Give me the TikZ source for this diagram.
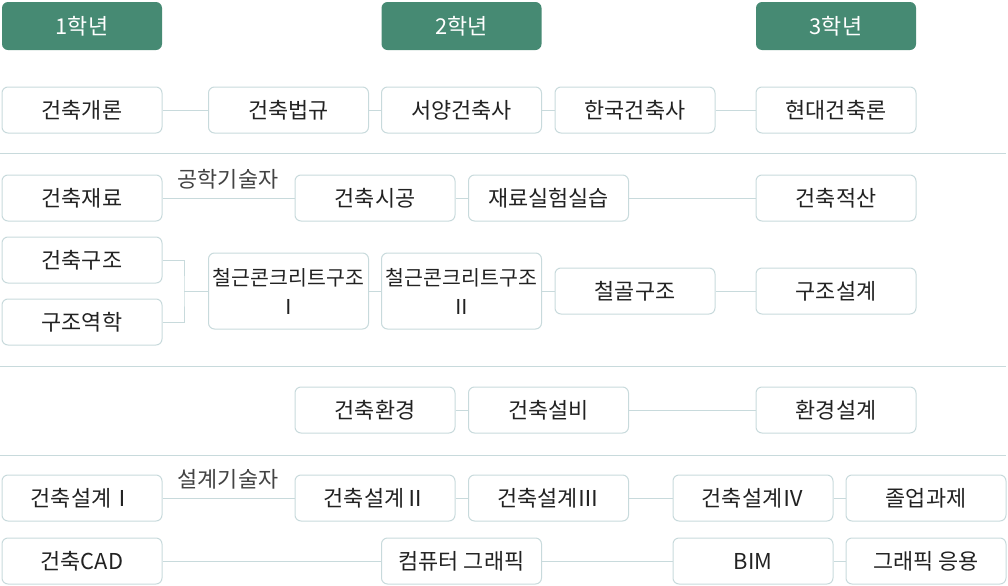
\documentclass[tikz,border=0pt]{standalone}
\usepackage{fontspec}
\setmainfont{Noto Sans CJK KR}
\definecolor{hdr}{RGB}{70,138,115}
\definecolor{edge}{RGB}{200,218,220}
\definecolor{txt}{RGB}{34,34,34}

\begin{document}
\begin{tikzpicture}[x=0.75pt, y=-0.75pt, font=\fontsize{16.4}{21.75}\selectfont,
  course/.style = {draw=edge, line width=0.75pt, rounded corners=4.5pt, minimum width=120pt, minimum height=34.5pt, inner sep=0pt, text=txt, align=center},
  tall/.style = {course, minimum height=57pt, font=\fontsize{15.4}{21.75}\selectfont},
  year/.style = {fill=hdr, rounded corners=4.5pt, minimum width=120pt, minimum height=36pt, inner sep=0pt, text=white},
  link/.style = {draw=edge, line width=0.75pt},
  tag/.style = {text=txt!85}]
\useasboundingbox (0,0) rectangle (1008,586);

% year headers
\node[year] (y1) at (82,26) {1학년};
\node[year] (y2) at (461.5,26) {2학년};
\node[year] (y3) at (836,26) {3학년};

% separators
\draw[link] (0,153) -- (1006,153);
\draw[link] (0,366) -- (1006,366);
\draw[link] (0,455) -- (1006,455);

% row 1
\node[course] (gr) at (82,110) {건축개론};
\node[course] (bg) at (288.5,110) {건축법규};
\node[course] (sy) at (461.5,110) {서양건축사};
\node[course] (hk) at (635,110) {한국건축사};
\node[course] (hd) at (836,110) {현대건축론};

% row 2
\node[course] (jr) at (82,198) {건축재료};
\node[course] (sg) at (375,198) {건축시공};
\node[course] (sh) at (548.5,198) {재료실험실습};
\node[course] (js) at (836,198) {건축적산};
\node[tag] (eng) at (228,179) {공학기술자};

% structure
\node[course] (jg) at (82,260) {건축구조};
\node[course] (yh) at (82,322) {구조역학};
\node[tall] (rc1) at (288.5,291) {철근콘크리트구조\\Ⅰ};
\node[tall] (rc2) at (461.5,291) {철근콘크리트구조\\Ⅱ};
\node[course] (cg) at (635,291) {철골구조};
\node[course] (gs) at (836,291) {구조설계};
\coordinate (br) at (184,291);

% environment
\node[course] (hg) at (375,410) {건축환경};
\node[course] (sb) at (548.5,410) {건축설비};
\node[course] (hs) at (836,410) {환경설계};

% design
\node[course] (d1) at (82,498) {건축설계Ⅰ};
\node[course] (d2) at (375,498) {건축설계Ⅱ};
\node[course] (d3) at (548.5,498) {건축설계Ⅲ};
\node[course] (d4) at (753,498) {건축설계Ⅳ};
\node[course] (jo) at (926,498) {졸업과제};
\node[tag] (des) at (228,479) {설계기술자};

% cad
\node[course] (cad) at (82,561) {건축CAD};
\node[course] (cp) at (461.5,561) {컴퓨터 그래픽};
\node[course] (bim) at (753,561) {BIM};
\node[course] (ga) at (926,561) {그래픽 응용};

\draw[link] (gr) -- (bg);
\draw[link] (bg) -- (sy);
\draw[link] (sy) -- (hk);
\draw[link] (hk) -- (hd);
\draw[link] (jr) -- (sg);
\draw[link] (sg) -- (sh);
\draw[link] (sh) -- (js);
\draw[link] (jg.east) -| (br) |- (yh.east);
\draw[link] (br) -- (rc1);
\draw[link] (rc1) -- (rc2);
\draw[link] (rc2) -- (cg);
\draw[link] (cg) -- (gs);
\draw[link] (hg) -- (sb);
\draw[link] (sb) -- (hs);
\draw[link] (d1) -- (d2);
\draw[link] (d2) -- (d3);
\draw[link] (d3) -- (d4);
\draw[link] (d4) -- (jo);
\draw[link] (cad) -- (cp);
\draw[link] (cp) -- (bim);
\draw[link] (bim) -- (ga);
\end{tikzpicture}
\end{document}
